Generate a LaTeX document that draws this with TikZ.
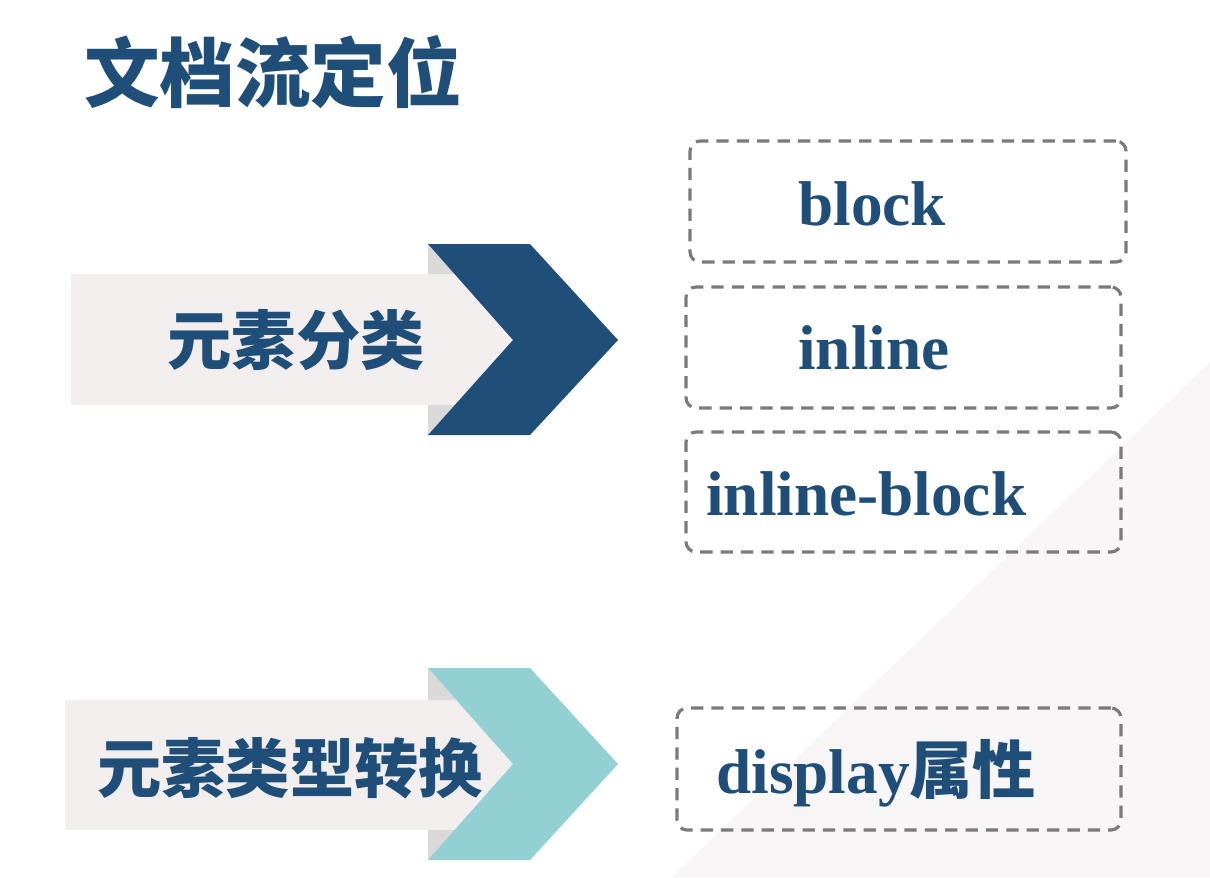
\documentclass[tikz,border=0pt]{standalone}
\usepackage{fontspec}
\usepackage{xcolor}
\setmainfont{Liberation Serif}
\newfontfamily\cjk{Noto Sans CJK SC}
\definecolor{navy}{HTML}{1F4E79}
\definecolor{teal2}{HTML}{92D0D3}
\definecolor{band}{HTML}{F2EEEE}
\definecolor{fold}{HTML}{D9D9D9}
\definecolor{corner}{HTML}{F7F5F6}
\definecolor{dashgray}{HTML}{7A7A7A}

\begin{document}
\begin{tikzpicture}[x=0.02cm, y=-0.02cm,
        kind/.style={draw=dashgray, line width=1.8pt, dash pattern=on 7pt off 4.6pt, rounded corners=0.2cm, minimum height=2.42cm, inner sep=0pt},
        heading/.style={font=\cjk\bfseries\fontsize{36.6}{40}\selectfont, text=navy, inner sep=0pt},
        word/.style={font=\bfseries\fontsize{36}{40}\selectfont, text=navy, anchor=base west, inner sep=0pt}]
                \useasboundingbox (0,0) rectangle (1210,877);
                \fill[white] (0,0) rectangle (1210,877);
                \fill[corner] (1210,362) -- (1210,877) -- (672,877) -- cycle;

                \fill[band] (71,274) rectangle (513,405);
                \fill[fold] (428,244) -- (455,274) -- (428,274) -- cycle;
                \fill[fold] (428,435) -- (455,405) -- (428,405) -- cycle;
                \fill[navy] (428,244) -- (530,244) -- (618,340) -- (530,435) -- (428,435) -- (513,340) -- cycle;

                \fill[band] (65,700) rectangle (513,830);
                \fill[fold] (428,668) -- (456,700) -- (428,700) -- cycle;
                \fill[fold] (428,860) -- (456,830) -- (428,830) -- cycle;
                \fill[teal2] (428,668) -- (530,668) -- (618,764) -- (530,860) -- (428,860) -- (513,764) -- cycle;

                \node[heading, font=\cjk\bfseries\fontsize{43}{47}\selectfont] (title) at (273, 72) {文档流定位};
                \node[heading] (sort) at (296, 340) {元素分类};
                \node[heading] (convert) at (290, 768) {元素类型转换};

                \node[kind, minimum width=8.72cm] (blockbox) at (908, 201.5) {};
                \node[kind, minimum width=8.70cm] (inlinebox) at (903.5, 347.5) {};
                \node[kind, minimum width=8.70cm, minimum height=2.40cm] (ibbox) at (903.5, 492) {};
                \node[kind, minimum width=8.88cm, minimum height=2.44cm] (displaybox) at (899, 769) {};

                \node[word] (block) at (798, 225) {block};
                \node[word] (inline) at (798, 369) {inline};
                \node[word] (ib) at (706, 515) {inline-block};
                \node[word] (display) at (716, 793) {display{\cjk\bfseries 属性}};
            \end{tikzpicture}
\end{document}
